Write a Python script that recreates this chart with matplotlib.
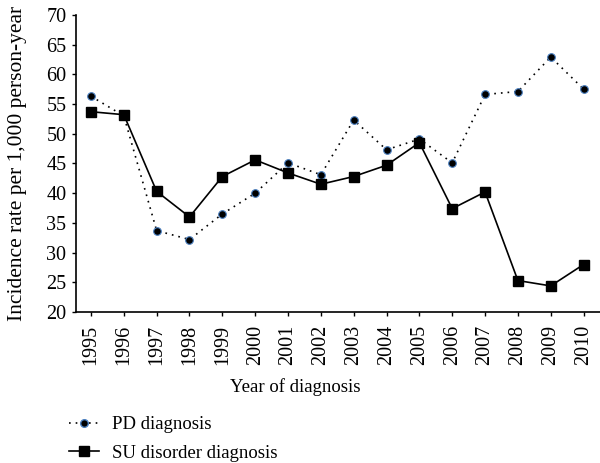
import matplotlib.pyplot as plt
from matplotlib.lines import Line2D

years = list(range(1995, 2011))
pd_rate = [56.3, 53.0, 33.7, 32.2, 36.5, 40.0, 45.1, 43.1, 52.3, 47.3, 49.1, 45.1, 56.6, 57.1, 62.9, 57.5]
su_rate = [53.7, 53.2, 40.3, 36.0, 42.8, 45.6, 43.4, 41.5, 42.8, 44.7, 48.5, 37.4, 40.2, 25.3, 24.4, 28.0]

plt.rcParams['font.family'] = ['Liberation Serif', 'DejaVu Serif']

fig = plt.figure(figsize=(6, 4.63), dpi=100)
ax = fig.add_axes([0.127, 0.326, 0.873, 0.642])

ax.plot(years, pd_rate, linestyle=(0, (1, 3)), color='black', linewidth=1.2,
        marker='o', markersize=5.5, markerfacecolor='black', markeredgecolor='#4a7fc0',
        markeredgewidth=0.8, label='PD diagnosis', zorder=2)
ax.plot(years, su_rate, linestyle='-', color='black', linewidth=1.2,
        marker='s', markersize=6.5, markerfacecolor='black', markeredgecolor='black',
        label='SU disorder diagnosis', zorder=3)

ax.set_xlim(1994.55, 2010.5)
ax.set_ylim(20, 70)
ax.set_yticks(range(20, 71, 5))
ax.set_xticks(years)
ax.set_xticklabels([str(y) for y in years], rotation=90)
ax.tick_params(axis='both', labelsize=14.5, direction='out', length=3, width=1, pad=4)
ax.tick_params(axis='x', pad=6)
ax.spines['top'].set_visible(False)
ax.spines['right'].set_visible(False)
ax.spines['left'].set_linewidth(1.2)
ax.spines['bottom'].set_linewidth(1.2)

ax.set_ylabel('Incidence rate per 1,000 person-year', fontsize=15.5)
ax.yaxis.set_label_coords(-0.113, 0.5)
ax.set_xlabel('Year of diagnosis', fontsize=13.5)
ax.xaxis.set_label_coords(0.418, -0.2525)
ax.xaxis.label.set_verticalalignment('center')
ax.yaxis.label.set_verticalalignment('center')

handles = [
    Line2D([], [], linestyle=(0, (1, 3)), color='black', linewidth=1.2, marker='o',
           markersize=5.5, markerfacecolor='black', markeredgecolor='#4a7fc0'),
    Line2D([], [], linestyle='-', color='black', linewidth=1.2, marker='s',
           markersize=6.5, markerfacecolor='black'),
]
fig.legend(handles, ['PD diagnosis', 'SU disorder diagnosis'], loc='lower left',
           bbox_to_anchor=(0.087, -0.034), frameon=False, fontsize=13.5,
           handlelength=1.6, handletextpad=0.7, labelspacing=0.6)

fig.savefig('out.png', dpi=100)
